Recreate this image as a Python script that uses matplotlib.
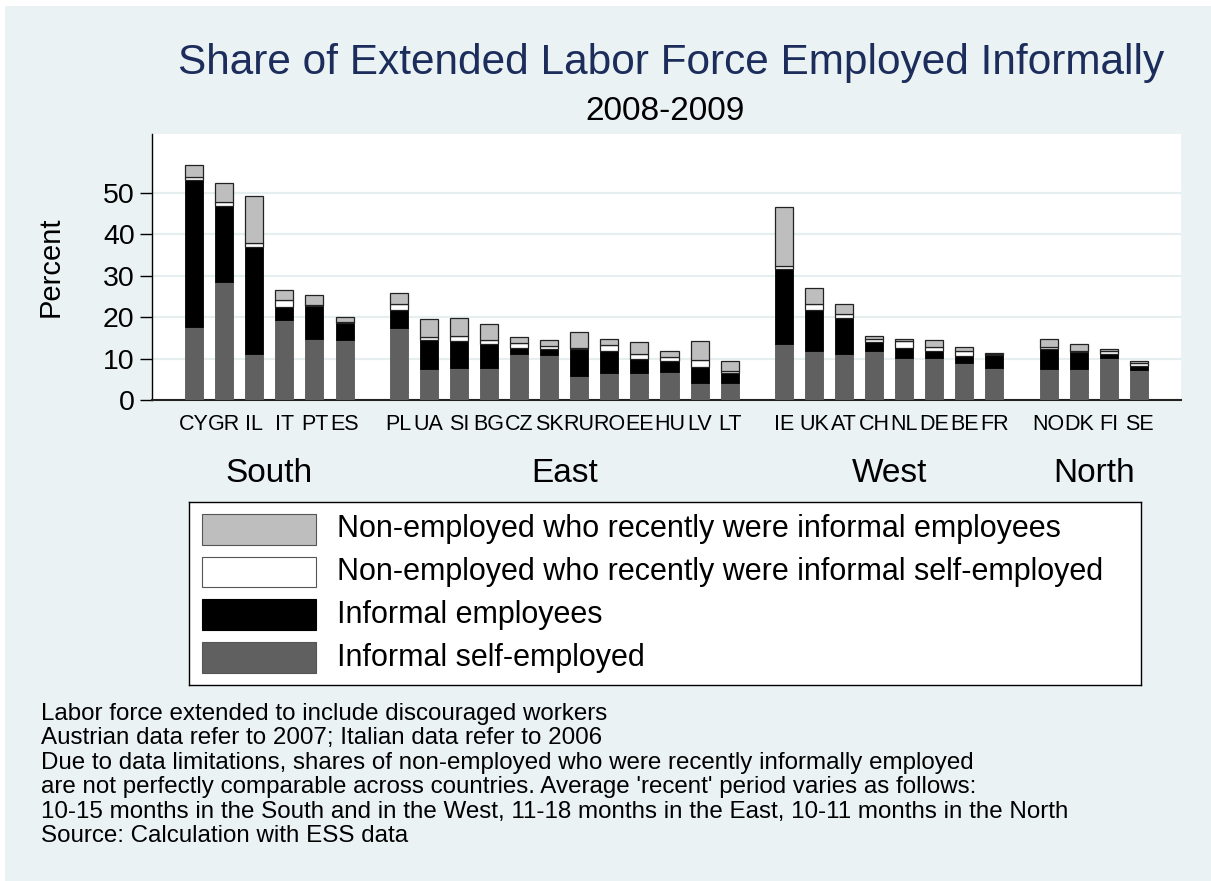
import matplotlib.pyplot as plt
import matplotlib.transforms as mtransforms
from matplotlib.patches import Rectangle
import numpy as np

plt.rcParams['font.family'] = ['Liberation Sans', 'DejaVu Sans']

# -----------------------------
# DATA (percent of extended labor force)
# -----------------------------
regions = ["South", "East", "West", "North"]
countries = [
    ["CY", "GR", "IL", "IT", "PT", "ES"],
    ["PL", "UA", "SI", "BG", "CZ", "SK", "RU", "RO", "EE", "HU", "LV", "LT"],
    ["IE", "UK", "AT", "CH", "NL", "DE", "BE", "FR"],
    ["NO", "DK", "FI", "SE"],
]
self_employed = [
    [17.6, 28.4, 11.1, 19.2, 14.6, 14.4],
    [17.3, 7.4, 7.8, 7.8, 11.2, 10.8, 5.8, 6.6, 6.4, 6.7, 4.2, 4.0],
    [13.4, 11.9, 11.2, 11.7, 10.1, 10.1, 8.9, 7.7],
    [7.4, 7.4, 10.1, 7.2],
]
employees = [
    [35.3, 18.4, 25.8, 3.3, 8.1, 4.1],
    [4.3, 7.1, 6.4, 5.6, 1.4, 1.5, 6.5, 5.3, 3.4, 2.7, 3.7, 2.4],
    [18.1, 9.8, 8.6, 2.2, 2.4, 1.8, 1.7, 3.2],
    [4.9, 4.2, 1.1, 1.0],
]
recent_self = [
    [0.9, 1.0, 1.0, 1.5, 0.2, 0.4],
    [1.5, 0.8, 1.3, 1.0, 1.1, 0.8, 0.3, 1.3, 1.3, 0.9, 1.8, 0.5],
    [0.8, 1.5, 0.9, 0.7, 1.6, 0.8, 1.1, 0.1],
    [0.4, 0.1, 0.6, 0.7],
]
recent_emp = [
    [2.8, 4.5, 11.2, 2.6, 2.4, 1.1],
    [2.8, 4.1, 4.2, 3.8, 1.5, 1.4, 3.7, 1.5, 2.8, 1.6, 4.5, 2.4],
    [14.2, 3.7, 2.4, 0.9, 0.6, 1.7, 1.0, 0.3],
    [2.1, 1.8, 0.4, 0.4],
]

series_labels = [
    "Non-employed who recently were informal employees",
    "Non-employed who recently were informal self-employed",
    "Informal employees",
    "Informal self-employed",
]
series_colors = ["#bebebe", "#ffffff", "#000000", "#606060"]

notes = ("Labor force extended to include discouraged workers\n"
         "Austrian data refer to 2007; Italian data refer to 2006\n"
         "Due to data limitations, shares of non-employed who were recently informally employed\n"
         "are not perfectly comparable across countries. Average 'recent' period varies as follows:\n"
         "10-15 months in the South and in the West, 11-18 months in the East, 10-11 months in the North\n"
         "Source: Calculation with ESS data")

BG = "#eaf2f3"
W, H = 1211, 881

# -----------------------------
# positions: groups separated by a gap
# -----------------------------
group_gap = 0.8
xpos, group_centers = [], []
start = 0.0
for grp in countries:
    xs = start + np.arange(len(grp))
    xpos.append(xs)
    group_centers.append(xs.mean())
    start = xs[-1] + 1 + group_gap

x_all = np.concatenate(xpos)
labels_all = sum(countries, [])
s1 = np.concatenate([np.array(v) for v in self_employed])
s2 = np.concatenate([np.array(v) for v in employees])
s3 = np.concatenate([np.array(v) for v in recent_self])
s4 = np.concatenate([np.array(v) for v in recent_emp])

fig = plt.figure(figsize=(W / 100, H / 100), dpi=100, facecolor="white")
fig.patches.append(Rectangle((5 / W, 0), 1, 1 - 6 / H, transform=fig.transFigure,
                             facecolor=BG, edgecolor="none", zorder=-10))

# ---------------------------------
# MAIN BAR PANEL
# ---------------------------------
ax = fig.add_axes([152 / W, (H - 400) / H, (1181 - 152) / W, (400 - 134) / H])
ax.set_facecolor("white")

bw = 0.6
ax.bar(x_all, s1, bw, color="#606060", edgecolor="#5a5a5a", linewidth=0.6, zorder=3)
ax.bar(x_all, s2, bw, bottom=s1, color="#000000", edgecolor="#000000", linewidth=0.6, zorder=3)
ax.bar(x_all, s3, bw, bottom=s1 + s2, color="#ffffff", edgecolor="#222222", linewidth=0.9, zorder=3)
ax.bar(x_all, s4, bw, bottom=s1 + s2 + s3, color="#bebebe", edgecolor="#222222", linewidth=0.9, zorder=3)

ax.set_xlim(x_all[0] - 1.4, x_all[-1] + 1.4)
ax.set_ylim(0, 64.1)
ax.set_yticks([0, 10, 20, 30, 40, 50])
ax.yaxis.grid(True, color="#e6eef0", linewidth=1.6, zorder=0)
ax.set_axisbelow(True)

ax.set_xticks(x_all)
ax.set_xticklabels(labels_all, fontsize=15.5)
ax.tick_params(axis="x", length=0, pad=10)
ax.tick_params(axis="y", labelsize=20.5, length=8.5, width=1, pad=4)

for side in ["top", "right"]:
    ax.spines[side].set_visible(False)
ax.spines["left"].set_linewidth(1.0)
ax.spines["bottom"].set_linewidth(1.5)
ax.spines["bottom"].set_color("#222222")

ax.set_ylabel("Percent", fontsize=21)
ax.yaxis.set_label_coords((65 - 152) / (1181 - 152), 0.5)

# group labels under the country codes
trans = mtransforms.blended_transform_factory(ax.transData, fig.transFigure)
for name, cx in zip(regions, group_centers):
    ax.text(cx, 1 - 481.7 / H, name, transform=trans, ha="center", va="baseline", fontsize=24)

# titles
fig.text(671 / W, 1 - 63 / H, "Share of Extended Labor Force Employed Informally",
         ha="center", va="center", fontsize=30.5, color="#1c2d5c")
fig.text(665 / W, 1 - 111 / H, "2008-2009", ha="center", va="center", fontsize=24)

# ---------------------------------
# LEGEND (boxed, one key per row)
# ---------------------------------
lx0, ly0, lx1, ly1 = 189, 502, 1141, 685
lax = fig.add_axes([lx0 / W, (H - ly1) / H, (lx1 - lx0) / W, (ly1 - ly0) / H])
lax.set_xlim(0, lx1 - lx0)
lax.set_ylim(ly1 - ly0, 0)
lax.set_xticks([])
lax.set_yticks([])
lax.set_facecolor("white")
for sp in lax.spines.values():
    sp.set_linewidth(1.0)
    sp.set_color("black")
for i, (lab, col) in enumerate(zip(series_labels, series_colors)):
    y_top = 12 + i * 42.7
    lax.add_patch(Rectangle((13, y_top), 114, 30.7, facecolor=col,
                            edgecolor="#555555" if col != "#000000" else "black", linewidth=0.8))
    lax.text(148, y_top + 15.5, lab, va="center", ha="left", fontsize=22)

# ---------------------------------
# NOTES
# ---------------------------------
fig.text(41 / W, 1 - 703 / H, notes, ha="left", va="top", fontsize=17.4, linespacing=1.14)

plt.savefig("out.png", dpi=100, facecolor=fig.get_facecolor())
